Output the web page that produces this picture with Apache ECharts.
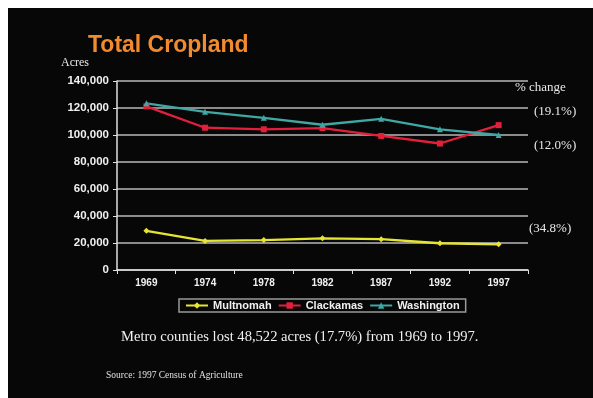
<!DOCTYPE html>
<html>
<head>
<meta charset="utf-8">
<script src="https://cdn.jsdelivr.net/npm/echarts@6/dist/echarts.min.js"></script>
<style>
  html, body { margin: 0; padding: 0; background: #fff; }
  #chart { width: 593px; height: 398px; }
</style>
</head>
<body>
<div id="chart"></div>
<script>
// Census years on the category axis
const years = ['1969', '1974', '1978', '1982', '1987', '1992', '1997'];

// Cropland acres by county
const multnomah  = [29000, 21500, 22200, 23500, 22800, 19800, 19000];
const clackamas  = [121200, 105400, 104200, 105100, 99300, 93700, 107300];
const washington = [123500, 117200, 112700, 107600, 112000, 104200, 100000];

// Percent change 1969-1997, printed beside each series
const changeLabels = ['(19.1%)', '(12.0%)', '(34.8%)'];

const W = 593, H = 398;
const chart = echarts.init(document.getElementById('chart'), null, { renderer: 'canvas' });

const serif = '"Liberation Serif", "DejaVu Serif", serif';
const sans = '"Liberation Sans", Arial, sans-serif';

function lineSeries(name, data, color, symbol) {
  return {
    name, type: 'line', data,
    symbol, symbolSize: 6,
    lineStyle: { color, width: 2.3 },
    itemStyle: { color },
    emphasis: { disabled: true }
  };
}

chart.setOption({
  animation: false,
  backgroundColor: '#fff',
  graphic: [
    { type: 'rect', z: -10, shape: { x: 8, y: 8, width: W - 8, height: H - 8 }, style: { fill: '#070707' } },
    { type: 'text', left: 88, top: 34, style: { text: 'Total Cropland', fill: '#f28a2e', font: 'bold 23px ' + sans } },
    { type: 'text', left: 61, top: 57, style: { text: 'Acres', fill: '#e8e8e8', font: '12px ' + serif } },
    { type: 'text', left: 515, top: 81, style: { text: '% change', fill: '#e8e8e8', font: '13px ' + serif } },
    { type: 'text', left: 534, top: 105, style: { text: changeLabels[0], fill: '#e8e8e8', font: '13px ' + serif } },
    { type: 'text', left: 534, top: 139, style: { text: changeLabels[1], fill: '#e8e8e8', font: '13px ' + serif } },
    { type: 'text', left: 529, top: 222, style: { text: changeLabels[2], fill: '#e8e8e8', font: '13px ' + serif } },
    { type: 'text', left: 121, top: 330, style: { text: 'Metro counties lost 48,522 acres (17.7%) from 1969 to 1997.', fill: '#f0f0f0', font: '14.6px ' + serif } },
    { type: 'text', left: 106, top: 370, style: { text: 'Source: 1997 Census of Agriculture', fill: '#e0e0e0', font: '9.5px ' + serif } }
  ],
  grid: { left: 117, right: 65, top: 81, bottom: 128 },
  legend: {
    bottom: 86, left: 179,
    itemGap: 6, itemWidth: 22, itemHeight: 8,
    padding: [1, 6, 1, 6],
    borderColor: '#9a9a9a', borderWidth: 1.5,
    backgroundColor: '#070707',
    textStyle: { color: '#f0f0f0', fontFamily: sans, fontWeight: 'bold', fontSize: 11 },
    data: ['Multnomah', 'Clackamas', 'Washington']
  },
  xAxis: {
    type: 'category', data: years, boundaryGap: true,
    axisLine: { lineStyle: { color: '#e0e0e0', width: 1.5 } },
    axisTick: { show: true, alignWithLabel: false, length: 4, lineStyle: { color: '#e0e0e0' } },
    axisLabel: { color: '#f0f0f0', fontFamily: sans, fontWeight: 'bold', fontSize: 10, margin: 8 },
    splitLine: { show: false }
  },
  yAxis: {
    type: 'value', min: 0, max: 140000, interval: 20000,
    axisLine: { show: true, lineStyle: { color: '#e0e0e0', width: 1.5 } },
    axisTick: { show: true, length: 4, lineStyle: { color: '#e0e0e0' } },
    axisLabel: {
      color: '#f0f0f0', fontFamily: sans, fontWeight: 'bold', fontSize: 11.5, margin: 8,
      formatter: v => v.toLocaleString('en-US')
    },
    splitLine: { lineStyle: { color: '#b8b8b8', width: 1.5 } }
  },
  series: [
    lineSeries('Multnomah', multnomah, '#e6e632', 'diamond'),
    lineSeries('Clackamas', clackamas, '#e3203c', 'rect'),
    lineSeries('Washington', washington, '#3fa8a4', 'triangle')
  ]
});
</script>
</body>
</html>
